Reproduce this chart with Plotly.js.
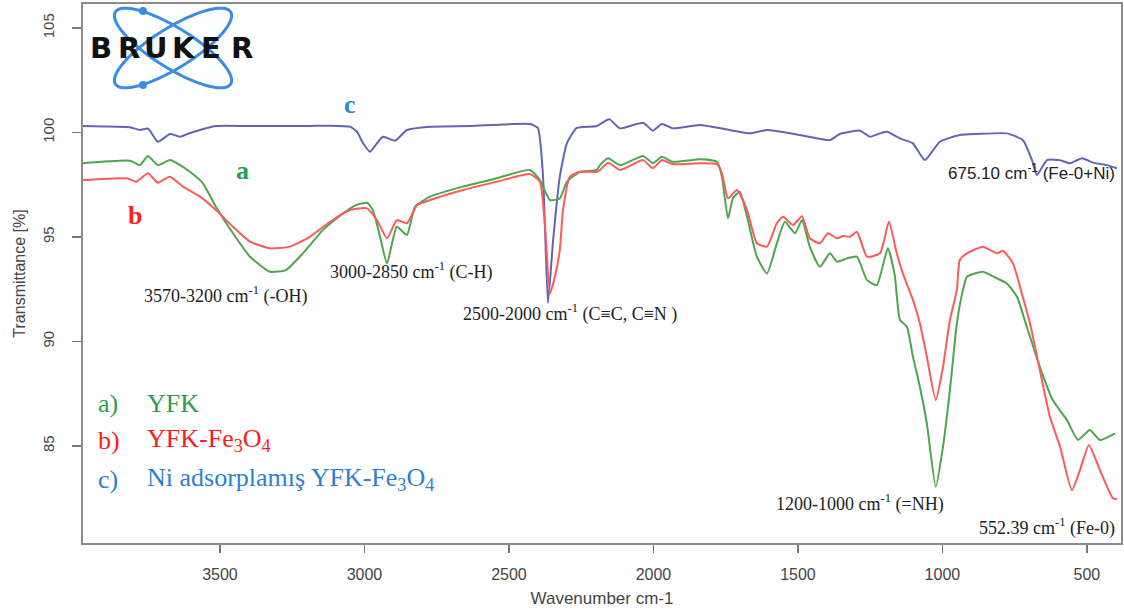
<!DOCTYPE html>
<html>
<head>
<meta charset="utf-8">
<script src="https://cdn.plot.ly/plotly-3.0.1.min.js"></script>
<style>
  html, body { margin: 0; padding: 0; background: #ffffff; }
  #chart { width: 1124px; height: 614px; }
</style>
</head>
<body>
<div id="chart"></div>
<script>
// ---- Data ----
// Curve a) YFK (green)
const wnA = [3974, 3811, 3777, 3749, 3715, 3673, 3638, 3604, 3559, 3514, 3455, 3396, 3327, 3272, 3213, 3144, 3074, 3030, 2991, 2971, 2946, 2922, 2888, 2853, 2825, 2773, 2659, 2542, 2427, 2393, 2358, 2324, 2299, 2254, 2196, 2185, 2157, 2116, 2036, 2002, 1971, 1933, 1839, 1780, 1763, 1742, 1725, 1701, 1676, 1642, 1607, 1573, 1545, 1510, 1486, 1459, 1424, 1389, 1365, 1330, 1296, 1261, 1227, 1189, 1165, 1147, 1123, 1102, 1078, 1054, 1023, 998, 974, 950, 929, 915, 860, 811, 777, 742, 708, 663, 618, 569, 531, 490, 455, 403];
const tA  = [98.53, 98.65, 98.44, 98.88, 98.44, 98.68, 98.44, 98.12, 97.57, 96.45, 95.18, 94.06, 93.34, 93.42, 94.22, 95.33, 96.13, 96.53, 96.64, 96.29, 95.01, 93.74, 95.49, 95.10, 96.45, 96.93, 97.41, 97.81, 98.21, 97.73, 96.77, 96.85, 97.65, 98.12, 98.21, 98.44, 98.77, 98.44, 98.88, 98.53, 98.84, 98.60, 98.72, 98.60, 97.89, 95.89, 96.85, 97.17, 95.97, 94.06, 93.26, 94.70, 95.73, 95.18, 95.81, 94.54, 93.58, 94.22, 93.82, 93.98, 94.06, 92.94, 92.70, 94.46, 93.18, 91.03, 90.71, 89.27, 87.84, 86.09, 83.05, 84.97, 87.68, 90.87, 92.46, 93.10, 93.34, 93.02, 92.78, 92.14, 90.71, 88.79, 87.20, 86.24, 85.29, 85.77, 85.29, 85.61];

// Curve b) YFK-Fe3O4 (red)
const wnB = [3974, 3823, 3790, 3749, 3715, 3673, 3628, 3569, 3514, 3455, 3396, 3327, 3258, 3189, 3119, 3050, 2991, 2957, 2922, 2888, 2853, 2818, 2773, 2659, 2542, 2427, 2393, 2375, 2358, 2341, 2324, 2313, 2289, 2254, 2196, 2185, 2157, 2116, 2036, 2002, 1971, 1933, 1839, 1780, 1763, 1742, 1711, 1676, 1642, 1607, 1573, 1552, 1517, 1486, 1459, 1424, 1396, 1365, 1344, 1320, 1296, 1261, 1216, 1185, 1158, 1137, 1102, 1078, 1054, 1023, 998, 974, 950, 940, 915, 860, 811, 791, 756, 722, 697, 663, 628, 593, 552, 524, 493, 455, 410, 396];
const tB  = [97.73, 97.81, 97.65, 98.05, 97.60, 97.89, 97.41, 96.93, 96.29, 95.49, 94.78, 94.46, 94.54, 95.01, 95.73, 96.29, 96.37, 95.81, 94.94, 95.81, 95.66, 96.53, 96.77, 97.25, 97.65, 98.01, 97.65, 95.49, 92.31, 93.10, 94.38, 96.29, 97.89, 98.12, 98.12, 98.21, 98.56, 98.21, 98.68, 98.29, 98.68, 98.49, 98.53, 98.49, 98.05, 96.85, 97.25, 96.29, 94.70, 94.54, 95.66, 95.97, 95.57, 96.00, 94.94, 94.70, 95.18, 94.94, 95.05, 95.01, 95.25, 94.06, 94.22, 95.73, 94.22, 93.26, 91.99, 90.87, 89.27, 87.20, 88.79, 91.03, 92.46, 93.90, 94.22, 94.54, 94.22, 94.34, 93.74, 92.14, 90.87, 88.64, 86.40, 84.97, 82.89, 83.85, 85.05, 83.85, 82.50, 82.45];

// Curve c) Ni adsorplamış YFK-Fe3O4 (blue)
const wnC = [3974, 3900, 3811, 3777, 3749, 3715, 3673, 3638, 3604, 3569, 3514, 3400, 3200, 3119, 3050, 3026, 3005, 2981, 2957, 2936, 2894, 2853, 2773, 2635, 2427, 2400, 2382, 2365, 2348, 2324, 2299, 2265, 2196, 2161, 2151, 2116, 2036, 2002, 1971, 1933, 1839, 1725, 1666, 1607, 1493, 1389, 1355, 1285, 1251, 1216, 1192, 1147, 1102, 1061, 1009, 940, 881, 777, 722, 690, 673, 638, 593, 559, 517, 479, 431, 396];
const tC  = [100.31, 100.29, 100.25, 100.12, 100.19, 99.56, 99.93, 99.80, 99.98, 100.12, 100.31, 100.31, 100.31, 100.33, 100.28, 100.04, 99.50, 99.08, 99.48, 99.80, 99.61, 100.12, 100.28, 100.31, 100.41, 100.22, 97.89, 91.84, 94.71, 97.89, 99.50, 100.22, 100.31, 100.60, 100.63, 100.20, 100.47, 100.09, 100.41, 100.20, 100.36, 100.09, 99.96, 100.12, 99.88, 99.64, 99.93, 100.09, 99.80, 99.96, 100.04, 99.72, 99.48, 98.68, 99.56, 99.88, 99.93, 99.96, 99.64, 98.68, 97.97, 98.68, 98.68, 98.53, 98.77, 98.56, 98.44, 98.29];

const xTicks = [3500, 3000, 2500, 2000, 1500, 1000, 500];
const yTicks = [85, 90, 95, 100, 105];

// ---- Layout helpers (pixel -> paper for decoration placement) ----
const PL = 83, PR = 1121, PT = 4, PB = 543;
const px = x => (x - PL) / (PR - PL);
const py = y => (PB - y) / (PB - PT);

const serif = 'Liberation Serif, Times New Roman, serif';
const sans = 'Liberation Sans, Arial, sans-serif';

function ann(text, x, y, opts) {
  return Object.assign({
    text: text, xref: 'paper', yref: 'paper', x: px(x), y: py(y),
    showarrow: false, xanchor: 'center', yanchor: 'middle',
    font: {family: serif, size: 18, color: '#222'}
  }, opts || {});
}

const annotations = [
  // curve letters
  ann('c', 350, 104, {font: {family: serif, size: 26, color: '#2f86d0', weight: 'bold'}}),
  ann('a', 242, 170, {font: {family: serif, size: 26, color: '#2aa050', weight: 'bold'}}),
  ann('b', 135, 216, {font: {family: serif, size: 26, color: '#ff2020', weight: 'bold'}}),
  // band labels
  ann('3570-3200 cm<sup>-1</sup> (-OH)', 225, 295),
  ann('3000-2850 cm<sup>-1</sup> (C-H)', 411, 271),
  ann('2500-2000 cm<sup>-1</sup> (C≡C, C≡N )', 570, 313),
  ann('675.10 cm<sup>-1</sup> (Fe-0+Ni)', 1117, 172, {xanchor: 'right', font: {family: sans, size: 17, color: '#222'}}),
  ann('1200-1000 cm<sup>-1</sup> (=NH)', 860, 503),
  ann('552.39 cm<sup>-1</sup> (Fe-0)', 1117, 527, {xanchor: 'right'}),
  // legend block
  ann('a)', 96, 403, {xanchor: 'left', font: {family: serif, size: 26, color: '#2aa050'}}),
  ann('YFK', 145, 403, {xanchor: 'left', font: {family: serif, size: 26, color: '#2aa050'}}),
  ann('b)', 96, 440, {xanchor: 'left', font: {family: serif, size: 26, color: '#ff1a1a'}}),
  ann('YFK-Fe<sub>3</sub>O<sub>4</sub>', 145, 440, {xanchor: 'left', font: {family: serif, size: 26, color: '#ff1a1a'}}),
  ann('c)', 96, 479, {xanchor: 'left', font: {family: serif, size: 26, color: '#2e7fd0'}}),
  ann('Ni adsorplamış YFK-Fe<sub>3</sub>O<sub>4</sub>', 145, 479, {xanchor: 'left', font: {family: serif, size: 26, color: '#2e7fd0'}})
];

// BRUKER logo text, letter by letter
const logoLetters = ['B', 'R', 'U', 'K', 'E', 'R'];
const logoX = [101, 129, 156, 184, 211, 242];
logoLetters.forEach((l, i) => {
  annotations.push(ann(l, logoX[i], 48, {font: {family: 'DejaVu Sans, sans-serif', size: 29, color: '#111', weight: 'bold'}}));
});

// Logo ellipses (decoration)
function ellipsePath(cx, cy, a, b, deg) {
  const th = deg * Math.PI / 180;
  let d = '';
  for (let k = 0; k <= 72; k++) {
    const t = k / 72 * 2 * Math.PI;
    const X = cx + a * Math.cos(t) * Math.cos(th) - b * Math.sin(t) * Math.sin(th);
    const Y = cy + a * Math.cos(t) * Math.sin(th) + b * Math.sin(t) * Math.cos(th);
    d += (k === 0 ? 'M' : 'L') + px(X).toFixed(5) + ',' + py(Y).toFixed(5) + ' ';
  }
  return d + 'Z';
}
const logoBlue = '#3a8de6';
const shapes = [
  {type: 'path', xref: 'paper', yref: 'paper', path: ellipsePath(173, 48, 68, 20, 32), line: {color: logoBlue, width: 3}, layer: 'below'},
  {type: 'path', xref: 'paper', yref: 'paper', path: ellipsePath(173, 48, 68, 20, -32), line: {color: logoBlue, width: 3}, layer: 'below'},
  {type: 'circle', xref: 'paper', yref: 'paper', x0: px(139), x1: px(147), y0: py(7), y1: py(15), fillcolor: logoBlue, line: {width: 0}},
  {type: 'circle', xref: 'paper', yref: 'paper', x0: px(139), x1: px(147), y0: py(81), y1: py(89), fillcolor: logoBlue, line: {width: 0}}
];

const traces = [
  {x: wnC, y: tC, mode: 'lines', name: 'c', line: {color: '#6464b4', width: 2, shape: 'spline', smoothing: 0.5}},
  {x: wnA, y: tA, mode: 'lines', name: 'a', line: {color: '#4ca64c', width: 2, shape: 'spline', smoothing: 0.5}},
  {x: wnB, y: tB, mode: 'lines', name: 'b', line: {color: '#ff5a5a', width: 2, shape: 'spline', smoothing: 0.5}}
];

const axisCommon = {
  showgrid: false, zeroline: false, showline: true, mirror: true,
  linecolor: '#8c8c8c', linewidth: 2, ticks: 'outside', tickcolor: '#777', tickwidth: 1.5
};

const layout = {
  width: 1124, height: 614,
  margin: {l: PL, r: 1124 - PR, t: PT, b: 614 - PB},
  paper_bgcolor: '#ffffff', plot_bgcolor: '#ffffff',
  showlegend: false,
  xaxis: Object.assign({}, axisCommon, {
    range: [3974, 382], tickvals: xTicks, ticktext: xTicks.map(String), ticklen: 8,
    ticklabelstandoff: 8,
    tickfont: {family: sans, size: 16, color: '#444'},
    title: {text: 'Wavenumber cm-1', font: {family: sans, size: 17, color: '#444'}, standoff: 10}
  }),
  yaxis: Object.assign({}, axisCommon, {
    range: [80.36, 106.15], tickvals: yTicks, ticktext: yTicks.map(String), ticklen: 9,
    tickangle: -90, ticklabelstandoff: 12,
    tickfont: {family: sans, size: 15, color: '#444'},
    title: {text: 'Transmittance [%]', font: {family: sans, size: 16, color: '#444'}, standoff: 10}
  }),
  annotations: annotations,
  shapes: shapes
};

Plotly.newPlot('chart', traces, layout, {displayModeBar: false, staticPlot: true});
</script>
</body>
</html>
